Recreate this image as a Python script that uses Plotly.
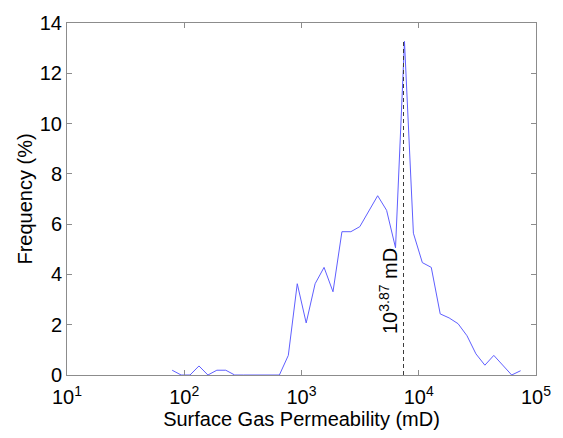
import numpy as np
import plotly.graph_objects as go

# bin centres (log10 of permeability, mD) and frequency (%)
log_perm = [1.897 + 0.0762 * k for k in range(40)]
freq = [0.19, 0.0, 0.0, 0.36, 0.0, 0.19, 0.19, 0.0, 0.0, 0.0,
        0.0, 0.0, 0.0, 0.78, 3.63, 2.07, 3.63, 4.28, 3.31, 5.70,
        5.70, 5.90, 6.52, 7.13, 6.55, 5.06, 13.27, 5.64, 4.47, 4.28,
        2.43, 2.27, 2.04, 1.56, 0.84, 0.39, 0.78, 0.39, 0.0, 0.17]
perm = [10 ** v for v in log_perm]

mode_log = 3.87
mode_freq = 13.27

x_tickvals = [10, 100, 1000, 10000, 100000]
x_ticktext = ["10<sup>1</sup>", "10<sup>2</sup>", "10<sup>3</sup>", "10<sup>4</sup>", "10<sup>5</sup>"]
y_tickvals = [0, 2, 4, 6, 8, 10, 12, 14]

FONT = "Liberation Sans, Arial, Helvetica, sans-serif"

fig = go.Figure()
fig.add_trace(go.Scatter(x=perm, y=freq, mode="lines",
                         line=dict(color="rgb(95,95,255)", width=1),
                         showlegend=False, hoverinfo="skip"))
fig.add_trace(go.Scatter(x=[10 ** mode_log, 10 ** mode_log], y=[0, mode_freq], mode="lines",
                         line=dict(color="rgb(60,60,60)", width=1, dash="4px,3px"),
                         showlegend=False, hoverinfo="skip"))

fig.add_annotation(x=mode_log, y=3.34, xref="x", yref="y", xanchor="right", xshift=-1,
                   text="10<sup>3.87</sup> mD", textangle=-90, showarrow=False,
                   font=dict(family=FONT, size=20, color="black"))

axis_common = dict(showline=True, linecolor="#8c8c8c", linewidth=1, mirror="allticks",
                   ticks="inside", ticklen=5, tickcolor="#8c8c8c", showgrid=False,
                   zeroline=False, tickfont=dict(family=FONT, size=20, color="black"))

fig.update_xaxes(type="log", range=[1, 5], tickvals=x_tickvals, ticktext=x_ticktext,
                 ticklabelstandoff=4,
                 title=dict(text="Surface Gas Permeability (mD)", font=dict(family=FONT, size=20, color="black"), standoff=2),
                 **axis_common)
fig.update_yaxes(range=[0, 14], tickvals=y_tickvals,
                 title=dict(text="Frequency (%)", font=dict(family=FONT, size=20, color="black"), standoff=1),
                 **axis_common)

fig.update_layout(width=563, height=438, margin=dict(l=67, r=24, t=15, b=63),
                  paper_bgcolor="white", plot_bgcolor="white",
                  font=dict(family=FONT, color="black"))

fig.write_html("out.html")
